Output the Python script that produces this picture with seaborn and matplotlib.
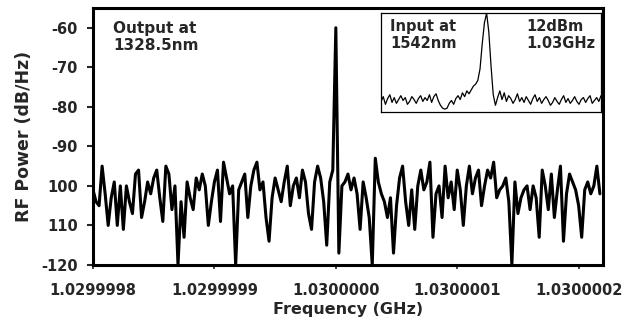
import numpy as np
import matplotlib
matplotlib.use("Agg")
import matplotlib.pyplot as plt
from matplotlib.ticker import FormatStrFormatter
import seaborn as sns

# main trace: output spectrum, one value per 2.5 Hz sweep step from 1.0299998 GHz
power_db = [
    -101, -104, -105, -95, -102, -110, -103, -99, -110, -100,
    -111, -100, -104, -107, -97, -96, -108, -104, -99, -102,
    -98, -96, -103, -109, -95, -97, -106, -100, -120, -104,
    -113, -99, -103, -106, -98, -101, -97, -100, -110, -104,
    -99, -96, -109, -94, -98, -102, -100, -120, -101, -99,
    -97, -108, -100, -96, -94, -101, -99, -108, -114, -103,
    -98, -101, -104, -99, -95, -105, -100, -98, -103, -96,
    -99, -107, -111, -99, -95, -98, -104, -115, -99, -96,
    -60, -117, -100, -99, -97, -101, -98, -102, -111, -99,
    -103, -108, -120, -93, -99, -102, -104, -108, -103, -117,
    -105, -98, -95, -104, -110, -101, -111, -100, -96, -101,
    -99, -94, -113, -102, -100, -108, -95, -103, -99, -106,
    -96, -101, -110, -100, -95, -102, -98, -96, -105, -100,
    -96, -98, -94, -103, -101, -100, -98, -104, -120, -99,
    -107, -103, -101, -100, -106, -100, -103, -113, -96, -100,
    -106, -97, -108, -101, -95, -114, -102, -97, -99, -101,
    -105, -113, -101, -99, -102, -100, -95, -102,
]
start_ghz = 1.0299998
step_ghz = 2.5e-9
freq_ghz = start_ghz + np.arange(len(power_db)) * step_ghz

x_ticks = [1.0299998, 1.0299999, 1.0300000, 1.0300001, 1.0300002]
y_ticks = [-60, -70, -80, -90, -100, -110, -120]
y_tick_labels = ["-60", "-70", "-80", "-90", "100", "110", "-120"]

# inset: input spectrum, relative height (0 = floor, 100 = peak)
inset_level = [
    8, 13, 5, 11, 15, 7, 12, 6, 10, 14,
    9, 12, 5, 8, 13, 10, 6, 11, 14, 8,
    12, 9, 15, 7, 13, 16, 9, 4, 1, 0,
    1, 6, 9, 5, 11, 14, 10, 17, 13, 19,
    16, 20, 24, 26, 30, 42, 68, 90, 100, 80,
    45, 15, 4, 12, 19, 10, 17, 8, 14, 11,
    6, 10, 16, 8, 12, 7, 13, 9, 5, 11,
    15, 8, 12, 6, 10, 13, 9, 4, 7, 12,
    8, 5, 10, 14, 7, 11, 6, 9, 13, 8,
    5, 10, 12, 7, 11, 14, 6, 9, 12, 8, 14,
]
inset_x = np.arange(len(inset_level))

sns.set_style("white")
plt.rcParams["font.family"] = ["DejaVu Sans"]
plt.rcParams["font.weight"] = "bold"

fig = plt.figure(figsize=(6.34, 3.2), dpi=100)
ax = fig.add_axes([0.1467, 0.172, 0.8043, 0.803])

sns.lineplot(x=freq_ghz, y=power_db, ax=ax, color="black", linewidth=2.2)

ax.set_xlim(1.0299998, 1.03000022)
ax.set_ylim(-120, -55)
ax.set_xticks(x_ticks)
ax.xaxis.set_major_formatter(FormatStrFormatter("%.7f"))
ax.set_yticks(y_ticks)
ax.set_yticklabels(y_tick_labels)
ax.tick_params(axis="y", direction="out", length=4, width=1.5, pad=7,
               labelsize=10.5, left=True)
ax.tick_params(axis="x", direction="out", length=3, width=1.2, pad=10,
               labelsize=10.5, bottom=True)
for lab in ax.get_xticklabels() + ax.get_yticklabels():
    lab.set_fontweight("bold")
for sp in ax.spines.values():
    sp.set_linewidth(2.2)
    sp.set_color("black")

ax.set_xlabel("Frequency (GHz)", fontsize=11.5, fontweight="bold", labelpad=3)
ax.set_ylabel("RF Power (dB/Hz)", fontsize=12.5, fontweight="bold", labelpad=6)

ax.text(0.039, 0.95, "Output at\n1328.5nm", transform=ax.transAxes,
        ha="left", va="top", fontsize=11, fontweight="bold", linespacing=1.2)

ins = fig.add_axes([0.601, 0.65, 0.347, 0.309])
sns.lineplot(x=inset_x, y=inset_level, ax=ins, color="black", linewidth=0.9)
ins.set_xlim(0, len(inset_level) - 1)
ins.set_ylim(-3, 100)
ins.set_xticks([])
ins.set_yticks([])
ins.set_facecolor("white")
for sp in ins.spines.values():
    sp.set_linewidth(0.9)
    sp.set_color("black")
ins.text(0.04, 0.94, "Input at\n1542nm", transform=ins.transAxes,
         ha="left", va="top", fontsize=10.5, fontweight="bold", linespacing=1.2)
ins.text(0.66, 0.94, "12dBm\n1.03GHz", transform=ins.transAxes,
         ha="left", va="top", fontsize=10.5, fontweight="bold", linespacing=1.2)

fig.savefig("out.png", dpi=100)
